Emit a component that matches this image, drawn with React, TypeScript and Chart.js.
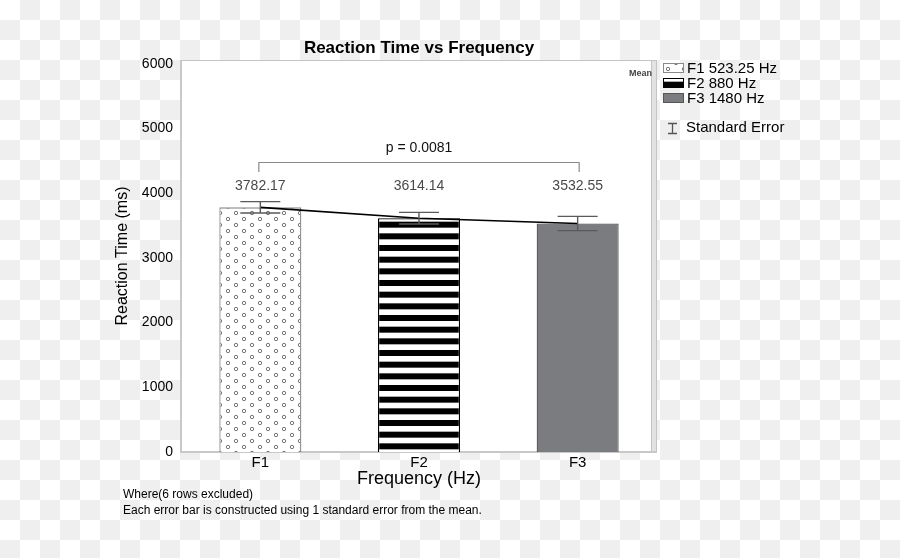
import React, { useEffect, useRef } from "react";
import { Chart, registerables } from "chart.js";
Chart.register(...registerables);

const categories = ["F1", "F2", "F3"];
const means = [3782.17, 3614.14, 3532.55];
const stdErrors = [88, 90, 110];
const meanLabels = ["3782.17", "3614.14", "3532.55"];
const legendLabels = ["F1 523.25 Hz", "F2 880 Hz", "F3 1480 Hz"];
const yTickValues = [0, 1000, 2000, 3000, 4000, 5000, 6000];
const pValueText = "p = 0.0081";
const chartTitle = "Reaction Time vs Frequency";
const xTitle = "Frequency (Hz)";
const yTitle = "Reaction Time (ms)";
const footnotes = ["Where(6 rows excluded)", "Each error bar is constructed using 1 standard error from the mean."];

const FONT = "'Liberation Sans', Arial, Helvetica, sans-serif";

function makeDots(): CanvasPattern | string {
  const c = document.createElement("canvas");
  c.width = 16;
  c.height = 12;
  const g = c.getContext("2d");
  if (!g) return "#fff";
  g.fillStyle = "#fff";
  g.fillRect(0, 0, 16, 12);
  g.strokeStyle = "#666";
  g.lineWidth = 0.9;
  g.beginPath();
  g.arc(4, 3, 1.7, 0, Math.PI * 2);
  g.stroke();
  g.beginPath();
  g.arc(12, 9, 1.7, 0, Math.PI * 2);
  g.stroke();
  return g.createPattern(c, "repeat") as CanvasPattern;
}

function makeStripes(): CanvasPattern | string {
  const c = document.createElement("canvas");
  c.width = 4;
  c.height = 35;
  const g = c.getContext("2d");
  if (!g) return "#000";
  g.fillStyle = "#fff";
  g.fillRect(0, 0, 4, 35);
  g.fillStyle = "#000";
  for (let i = 0; i < 3; i++) {
    g.fillRect(0, i * 35 / 3, 4, 6);
  }
  return g.createPattern(c, "repeat") as CanvasPattern;
}

export default function App() {
  const ref = useRef<HTMLCanvasElement | null>(null);

  useEffect(() => {
    const canvas = ref.current;
    if (!canvas) return;
    const dots = makeDots();
    const stripes = makeStripes();
    const fills = [dots, stripes, "#7b7c80"];
    const borders = ["#8a8a8a", "#000000", "#555555"];

    const decor = {
      id: "decor",
      beforeDraw(chart: any) {
        const ctx = chart.ctx;
        const W = chart.width, H = chart.height;
        ctx.save();
        ctx.fillStyle = "#ffffff";
        ctx.fillRect(0, 0, W, H);
        ctx.fillStyle = "#efefef";
        for (let r = 0; r * 20 < H; r++) {
          for (let c = 0; c * 20 < W; c++) {
            if ((r + c) % 2 === 1) ctx.fillRect(c * 20, r * 20, 20, 20);
          }
        }
        const a = chart.chartArea;
        ctx.fillStyle = "#ffffff";
        ctx.fillRect(a.left, a.top, a.right - a.left, a.bottom - a.top);
        ctx.fillStyle = "#e2e2e2";
        ctx.fillRect(a.right - 5, a.top, 5, a.bottom - a.top);
        ctx.strokeStyle = "#c4c4c4";
        ctx.lineWidth = 1;
        ctx.beginPath();
        ctx.moveTo(a.left, a.top + 0.5);
        ctx.lineTo(a.right, a.top + 0.5);
        ctx.moveTo(a.right - 5.5, a.top);
        ctx.lineTo(a.right - 5.5, a.bottom);
        ctx.moveTo(a.right - 0.5, a.top);
        ctx.lineTo(a.right - 0.5, a.bottom);
        ctx.stroke();
        ctx.lineWidth = 2;
        ctx.strokeStyle = "#c8c8c8";
        ctx.beginPath();
        ctx.moveTo(a.left, a.top);
        ctx.lineTo(a.left, a.bottom);
        ctx.lineTo(a.right, a.bottom);
        ctx.stroke();
        ctx.restore();
      },
      afterDatasetsDraw(chart: any) {
        const ctx = chart.ctx;
        const x = chart.scales.x;
        const y = chart.scales.y;
        ctx.save();
        ctx.strokeStyle = "#5a5a5a";
        ctx.lineWidth = 1.4;
        means.forEach((m, i) => {
          const cx = x.getPixelForValue(i);
          const yt = y.getPixelForValue(m + stdErrors[i]);
          const yb = y.getPixelForValue(m - stdErrors[i]);
          ctx.beginPath();
          ctx.moveTo(cx, yt);
          ctx.lineTo(cx, yb);
          ctx.moveTo(cx - 20, yt);
          ctx.lineTo(cx + 20, yt);
          ctx.moveTo(cx - 20, yb);
          ctx.lineTo(cx + 20, yb);
          ctx.stroke();
        });
        ctx.fillStyle = "#4a4a4a";
        ctx.font = `14px ${FONT}`;
        ctx.textAlign = "center";
        ctx.textBaseline = "middle";
        meanLabels.forEach((t, i) => {
          ctx.fillText(t, x.getPixelForValue(i), y.getPixelForValue(4110));
        });
        const bx1 = x.getPixelForValue(0) - 1.5;
        const bx2 = x.getPixelForValue(2) + 1.5;
        const byTop = Math.round(y.getPixelForValue(4480)) + 0.5;
        const byBot = y.getPixelForValue(4330);
        ctx.strokeStyle = "#8a8a8a";
        ctx.lineWidth = 1.2;
        ctx.beginPath();
        ctx.moveTo(bx1, byBot);
        ctx.lineTo(bx1, byTop);
        ctx.lineTo(bx2, byTop);
        ctx.lineTo(bx2, byBot);
        ctx.stroke();
        ctx.fillStyle = "#111";
        ctx.font = `14px ${FONT}`;
        ctx.fillText(pValueText, (x.getPixelForValue(0) + x.getPixelForValue(2)) / 2, y.getPixelForValue(4700));
        const a = chart.chartArea;
        ctx.font = `bold 9px ${FONT}`;
        ctx.fillStyle = "#444";
        ctx.textAlign = "right";
        ctx.fillText("Mean", a.right - 5, 74);
        ctx.restore();
      },
      afterDraw(chart: any) {
        const ctx = chart.ctx;
        const a = chart.chartArea;
        ctx.save();
        ctx.fillStyle = "#000";
        ctx.font = `bold 17px ${FONT}`;
        ctx.textAlign = "center";
        ctx.textBaseline = "middle";
        ctx.fillText(chartTitle, (a.left + a.right) / 2, 48);
        const lx = 663;
        const rows = [68, 83, 98];
        legendLabels.forEach((lab, i) => {
          const ry = rows[i];
          ctx.fillStyle = fills[i] as any;
          ctx.fillRect(lx, ry - 5, 21, 10);
          ctx.strokeStyle = borders[i];
          ctx.lineWidth = 1;
          ctx.strokeRect(lx + 0.5, ry - 4.5, 20, 9);
          ctx.fillStyle = "#000";
          ctx.font = `15px ${FONT}`;
          ctx.textAlign = "left";
          ctx.fillText(lab, 687, ry + 1);
        });
        ctx.strokeStyle = "#555";
        ctx.lineWidth = 1.3;
        ctx.beginPath();
        ctx.moveTo(668, 123.5);
        ctx.lineTo(677, 123.5);
        ctx.moveTo(672.5, 123.5);
        ctx.lineTo(672.5, 133.5);
        ctx.moveTo(668, 133.5);
        ctx.lineTo(677, 133.5);
        ctx.stroke();
        ctx.fillStyle = "#000";
        ctx.font = `15px ${FONT}`;
        ctx.fillText("Standard Error", 686, 128);
        ctx.font = `12px ${FONT}`;
        ctx.fillText(footnotes[0], 123, 495);
        ctx.fillText(footnotes[1], 123, 511);
        ctx.restore();
      },
    };

    const chart = new Chart(canvas, {
      type: "bar",
      data: {
        labels: categories,
        datasets: [
          {
            type: "line",
            data: means,
            borderColor: "#000",
            borderWidth: 1.6,
            pointRadius: 0,
            fill: false,
            tension: 0,
            order: 0,
          } as any,
          {
            type: "bar",
            data: means,
            backgroundColor: fills as any,
            borderColor: borders,
            borderWidth: 1.3,
            barPercentage: 0.517,
            categoryPercentage: 1,
            order: 1,
          },
        ],
      },
      options: {
        animation: false,
        responsive: false,
        devicePixelRatio: 1,
        layout: { padding: { left: 108, right: 243, top: 60, bottom: 66 } },
        plugins: { legend: { display: false }, tooltip: { enabled: false }, title: { display: false } },
        scales: {
          x: {
            grid: { display: false, drawTicks: false },
            border: { display: false },
            ticks: { color: "#000", font: { family: FONT, size: 15 }, padding: 2 },
            title: { display: true, text: xTitle, color: "#000", font: { family: FONT, size: 18 }, padding: { top: 0, bottom: 2 } },
            afterFit(scale: any) {
              scale.height = 40;
            },
          },
          y: {
            min: 0,
            max: 6060,
            grid: { display: false, drawTicks: false },
            border: { display: false },
            afterBuildTicks(scale: any) {
              scale.ticks = yTickValues.map((v) => ({ value: v }));
            },
            ticks: {
              color: "#000",
              font: { family: FONT, size: 14 },
              padding: 8,
              callback: (v: any) => String(v),
            },
            title: { display: true, text: yTitle, color: "#000", font: { family: FONT, size: 16 }, padding: { top: 5, bottom: 0 } },
            afterFit(scale: any) {
              scale.width = 73;
            },
          },
        },
      },
      plugins: [decor],
    });
    return () => chart.destroy();
  }, []);

  return (
    <div style={{ position: "fixed", left: 0, top: 0, width: 900, height: 558 }}>
      <canvas ref={ref} width={900} height={558} style={{ width: 900, height: 558, display: "block" }} />
    </div>
  );
}
